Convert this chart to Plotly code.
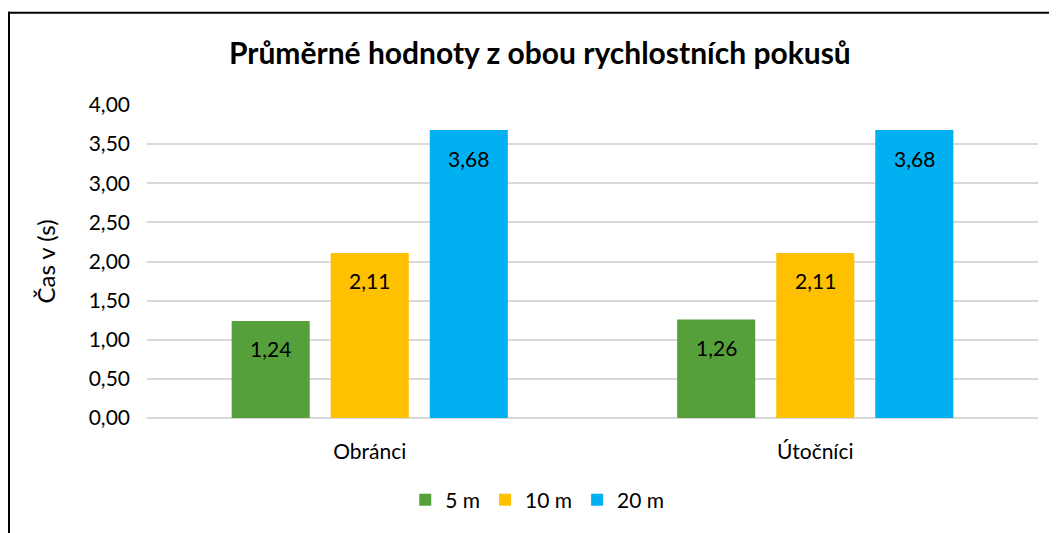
import plotly.graph_objects as go

categories = ["Obránci", "Útočníci"]
series_names = ["5 m", "10 m", "20 m"]
values_5m = [1.24, 1.26]
values_10m = [2.11, 2.11]
values_20m = [3.68, 3.68]
colors = ["#55A03B", "#FFC000", "#00B0F0"]
y_ticks = [0, 0.5, 1, 1.5, 2, 2.5, 3, 3.5, 4]

FONT = "Lato, 'Open Sans', sans-serif"
all_values = [values_5m, values_10m, values_20m]

fig = go.Figure()
for name, vals, col in zip(series_names, all_values, colors):
    fig.add_trace(go.Bar(
        name=name, x=categories, y=vals, marker=dict(color=col, line=dict(width=0)),
    ))

annotations = []
offsets = [-99, 0, 99]
for vals, off in zip(all_values, offsets):
    for cat, v in zip(categories, vals):
        annotations.append(dict(
            x=cat, y=v, xref="x", yref="y", text=f"{v:.2f}".replace(".", ","),
            showarrow=False, xshift=off, yshift=-28,
            font=dict(family=FONT, size=21, color="#000000"),
        ))

fig.update_layout(
    width=1049, height=525,
    margin=dict(l=139, r=19, t=97, b=115),
    paper_bgcolor="white", plot_bgcolor="white",
    separators=", ",
    barmode="group", bargap=0.333, bargroupgap=0.212,
    title=dict(text="<b>Průměrné hodnoty z obou rychlostních pokusů</b>",
               x=0.507, xanchor="center", y=0.914, yanchor="middle",
               font=dict(family=FONT, size=30, color="#000000")),
    font=dict(family=FONT, size=21, color="#000000"),
    xaxis=dict(showline=False, ticks="", tickfont=dict(size=21, color="#000000"),
               showgrid=False, ticklabelstandoff=19),
    yaxis=dict(range=[0, 4], tickvals=y_ticks, tickformat=".2f",
               showgrid=True, gridcolor="#D9D9D9", gridwidth=1.5,
               zeroline=True, zerolinecolor="#D9D9D9", zerolinewidth=1.5,
               tickfont=dict(size=21, color="#000000"), ticks="", ticklen=0,
               ticklabelstandoff=16,
               title=dict(text="Čas v (s)", font=dict(size=24, color="#000000"), standoff=26)),
    legend=dict(orientation="h", x=0.438, xanchor="center", y=-0.262, yanchor="middle",
                font=dict(size=21, color="#000000"), itemwidth=30,
                traceorder="normal"),
    annotations=annotations,
    shapes=[
        dict(type="line", xref="paper", yref="paper", x0=-0.1549, x1=-0.1549, y0=1.298, y1=-0.4,
             line=dict(color="#000000", width=2)),
        dict(type="line", xref="paper", yref="paper", x0=-0.156, x1=1.03, y0=1.295, y1=1.295,
             line=dict(color="#000000", width=2)),
    ],
)

fig.write_html("out.html")
